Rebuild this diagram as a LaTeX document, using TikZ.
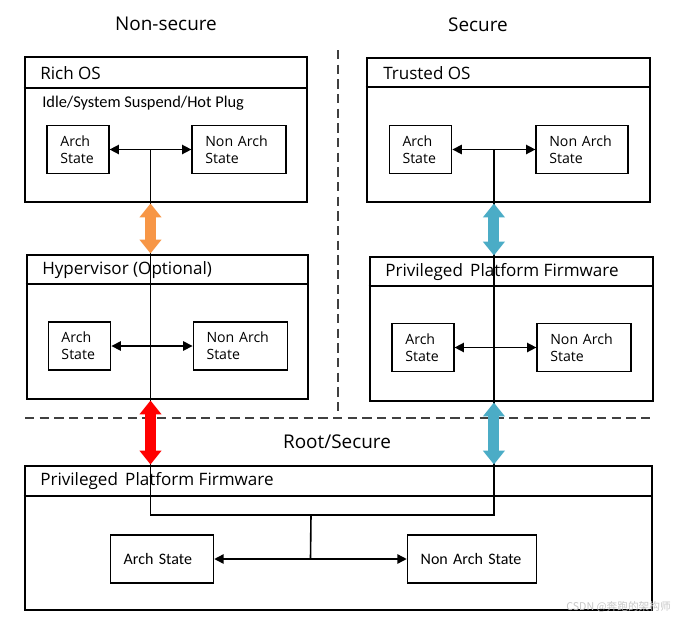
\documentclass[tikz,border=0pt]{standalone}
\usepackage{fontspec}
\setmainfont{Open Sans}
\newfontfamily\calib{Carlito}
\newfontfamily\cjk{Noto Sans CJK SC}
\usetikzlibrary{arrows.meta,calc}
\definecolor{fatorange}{HTML}{F79646}
\definecolor{fatblue}{HTML}{4BACC6}
\definecolor{fatred}{HTML}{FF0000}
\definecolor{dashgray}{HTML}{404040}
\begin{document}
\begin{tikzpicture}[x=0.75pt,y=-0.75pt,
  bigbox/.style={draw,line width=2.2pt,inner sep=0pt},
  smallbox/.style={draw,line width=0.9pt,minimum height=36pt,align=left,inner xsep=10pt,inner ysep=0pt,font=\fontsize{10.6}{13}\selectfont},
  boxtitle/.style={anchor=west,inner sep=0pt,font=\fontsize{12.8}{14}\selectfont},
  region/.style={inner sep=0pt,font=\fontsize{14.2}{16}\selectfont},
  divider/.style={line width=1.2pt},
  statearrow/.style={line width=1.1pt,{Triangle[width=7pt,length=7pt]}-{Triangle[width=7pt,length=7pt]}},
  link/.style={line width=1.2pt},
  fat/.style={line width=8.25pt,{Triangle[width=16pt,length=10.5pt]}-{Triangle[width=16pt,length=10.5pt]}},
  sep/.style={dashgray,line width=1.1pt,dash pattern=on 7pt off 4pt}]
\useasboundingbox (0,0) rectangle (676,622);

% region labels
\node[region] (ns) at (166,24) {Non-secure};
\node[region] (sec) at (478,25) {Secure};
\node[region] (rootlbl) at (337,442) {Root/Secure};

% separators
\coordinate (vsTop) at (338,50);
\coordinate (vsBot) at (338,415);
\coordinate (hsL) at (25,418);
\coordinate (hsR) at (652,418);
\draw[sep] (vsTop) -- (vsBot);
\draw[sep] (hsL) -- (hsR);

% big boxes
\node[bigbox,minimum width=211.5pt,minimum height=108.75pt] (rich) at (166,129.5) {};
\node[bigbox,minimum width=212.25pt,minimum height=108pt] (trust) at (508.5,130) {};
\node[bigbox,minimum width=210.75pt,minimum height=108pt] (hyp) at (167.5,327) {};
\node[bigbox,minimum width=212.25pt,minimum height=108pt] (ppf) at (511.5,329) {};
\node[bigbox,minimum width=470.25pt,minimum height=108pt] (root) at (338.5,538) {};

% dividers
\draw[divider] (rich.west |- 0,88) -- (rich.east |- 0,88);
\draw[divider] (trust.west |- 0,87) -- (trust.east |- 0,87);
\draw[divider] (hyp.west |- 0,284) -- (hyp.east |- 0,284);
\draw[divider] (ppf.west |- 0,286) -- (ppf.east |- 0,286);
\draw[divider] (root.west |- 0,496) -- (root.east |- 0,496);

% titles
\node[boxtitle] (richT) at (40,73) {Rich OS};
\node[boxtitle,font=\calib\fontsize{12.3}{14}\selectfont] (richS) at (42,103) {Idle/System Suspend/Hot Plug};
\node[boxtitle] (trustT) at (383,73) {Trusted OS};
\node[boxtitle] (hypT) at (42,270) {Hypervisor (Optional)};
\node[boxtitle] (ppfT) at (385,272) {Privileged\, Platform Firmware};
\node[boxtitle] (rootT) at (40,481) {Privileged\, Platform Firmware};

% small boxes
\node[smallbox,text width=26.5pt] (ra) at (78,149.5) {Arch\\State};
\node[smallbox,text width=50.5pt] (rn) at (239,149.5) {Non Arch\\State};
\node[smallbox,text width=27pt] (ta) at (420.5,149.5) {Arch\\State};
\node[smallbox,text width=49pt] (tn) at (582,149.5) {Non Arch\\State};
\node[smallbox,text width=27pt] (ha) at (79.5,346) {Arch\\State};
\node[smallbox,text width=51pt] (hn) at (240.5,346) {Non Arch\\State};
\node[smallbox,text width=26.5pt] (pa) at (423,347.5) {Arch\\State};
\node[smallbox,text width=50.5pt] (pn) at (584,347.5) {Non Arch\\State};
\node[smallbox,text width=57.5pt,font=\calib\fontsize{12}{14}\selectfont] (ba) at (162,559) {Arch State};
\node[smallbox,text width=77pt,font=\calib\fontsize{12}{14}\selectfont] (bn) at (472,559) {Non Arch State};

% state arrows
\draw[statearrow] (ra) -- (rn);
\draw[statearrow] (ta) -- (tn);
\draw[statearrow] (ha) -- (hn);
\draw[statearrow] (pa) -- (pn);
\draw[statearrow] (ba) -- (bn);

% links
\coordinate (lj) at ($(ra.east)!0.5!(rn.west)$);
\coordinate (rj) at ($(ta.east)!0.5!(tn.west)$);
\coordinate (bj) at ($(ba.east)!0.5!(bn.west)$);
\coordinate (lb) at (151,515);
\coordinate (rb) at (493,515);
\coordinate (mb) at (311,515);
\draw[link] (lj) -- (lj |- lb) -- (rj |- rb) -- (rj);
\draw[link] (mb) -- (bj);

% fat arrows
\draw[fat,fatorange] (lj |- rich.south) -- (lj |- hyp.north);
\draw[fat,fatred] (lj |- hyp.south) -- (lj |- root.north);
\draw[fat,fatblue] (rj |- trust.south) -- (rj |- ppf.north);
\draw[fat,fatblue] (rj |- ppf.south) -- (rj |- root.north);

% watermark
\node[anchor=east,inner sep=0pt,text=gray!45,font=\cjk\fontsize{8}{9}\selectfont] (wm) at (671,607) {CSDN @奔跑的架构师};
\end{tikzpicture}
\end{document}
